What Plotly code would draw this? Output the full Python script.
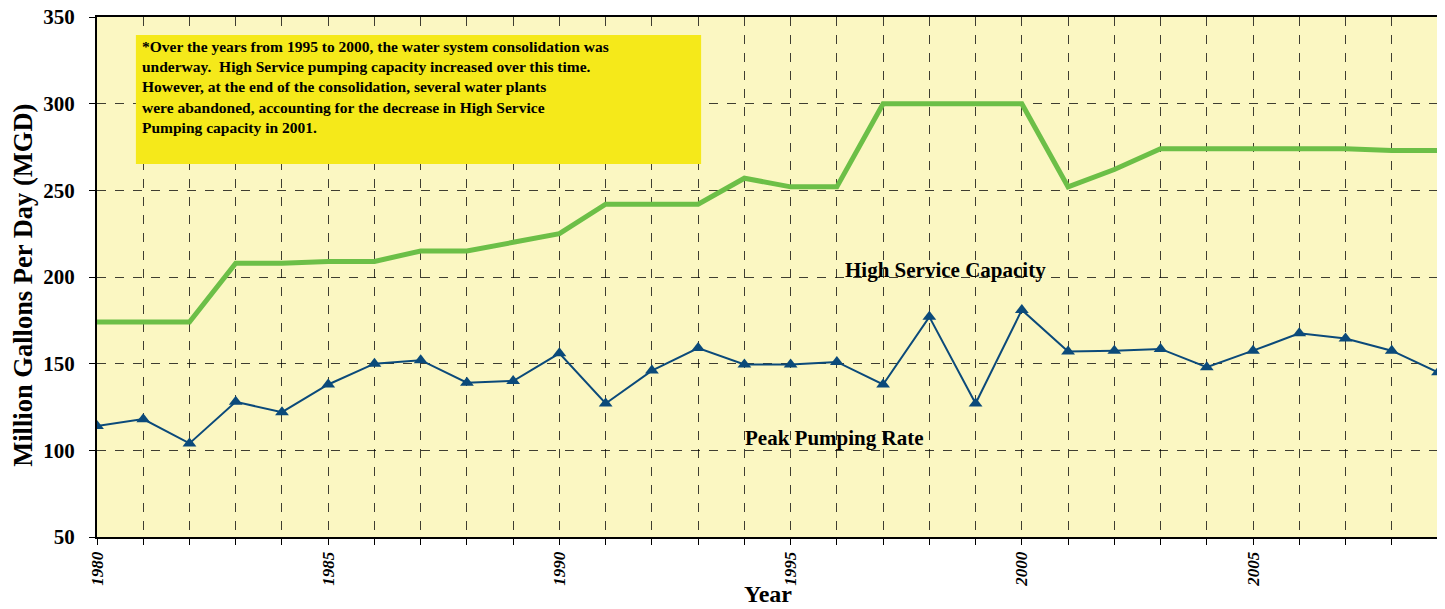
import plotly.graph_objects as go

years = list(range(1980, 2010))
high_service_capacity = [174, 174, 174, 208, 208, 209, 209, 215, 215, 220,
                         225, 242, 242, 242, 257, 252, 252, 300, 300, 300,
                         300, 252, 262, 274, 274, 274, 274, 274, 273, 273]
peak_pumping_rate = [114, 118, 104, 128, 122, 138, 150, 152, 139, 140,
                     156, 127, 146, 159, 149.5, 149.5, 151, 138, 177, 127,
                     181, 157, 157.5, 158.5, 148, 157.5, 167.5, 164.5, 157.5, 145]
x_tick_labels = [str(y) if y % 5 == 0 else "" for y in years]
y_ticks = [50, 100, 150, 200, 250, 300, 350]
note_lines = [
    "*Over the years from 1995 to 2000, the water system consolidation was",
    "underway.  High Service pumping capacity increased over this time.",
    "However, at the end of the consolidation, several water plants",
    "were abandoned, accounting for the decrease in High Service",
    "Pumping capacity in 2001.",
]

SERIF = "Liberation Serif, Times New Roman, serif"

fig = go.Figure()
fig.add_trace(go.Scatter(
    x=years, y=high_service_capacity, mode="lines",
    line=dict(color="#6CBF47", width=5), name="High Service Capacity",
))
fig.add_trace(go.Scatter(
    x=years, y=peak_pumping_rate, mode="lines+markers",
    line=dict(color="#0B4A7A", width=2),
    marker=dict(symbol="triangle-up", size=12, color="#0B4A7A"),
    name="Peak Pumping Rate",
))

fig.add_shape(type="rect", xref="paper", yref="paper",
              x0=0.029, x1=0.4505, y0=0.7175, y1=0.9655,
              fillcolor="#F5E91A", line=dict(width=0), layer="above")
for i, line in enumerate(note_lines):
    fig.add_annotation(xref="paper", yref="paper", x=0.032, y=0.944 - i * 0.0393,
                       xanchor="left", yanchor="middle", showarrow=False,
                       text=line, align="left",
                       font=dict(family=SERIF, size=15.5, color="black", weight="bold"))

fig.add_annotation(x=1998.35, y=204, text="High Service Capacity", showarrow=False,
                   font=dict(family=SERIF, size=21, color="black", weight="bold"))
fig.add_annotation(x=1995.95, y=107, text="Peak Pumping Rate", showarrow=False,
                   font=dict(family=SERIF, size=21, color="black", weight="bold"))

# axis titles
fig.add_annotation(xref="paper", yref="paper", x=-0.0552, y=0.485, textangle=-90,
                   xanchor="center", yanchor="middle",
                   text="Million Gallons Per Day (MGD)", showarrow=False,
                   font=dict(family=SERIF, size=26.5, color="black", weight="bold"))
fig.add_annotation(xref="paper", yref="paper", x=0.5, y=-0.138,
                   xanchor="center", yanchor="bottom",
                   text="Year", showarrow=False,
                   font=dict(family=SERIF, size=24, color="black", weight="bold"))

# page body has an 8px default margin, so the figure is sized to fit inside it
fig.update_layout(
    width=1437, height=601,
    margin=dict(l=89, r=7, t=9, b=72, autoexpand=False),
    paper_bgcolor="white", plot_bgcolor="#FBF7C2",
    showlegend=False,
    font=dict(family=SERIF, color="black"),
)
fig.update_xaxes(
    range=[1980, 2009], tickmode="array", tickvals=years, ticktext=x_tick_labels,
    tickangle=-90, ticks="outside", ticklen=6, tickcolor="black", automargin=False,
    ticklabeloverflow="allow",
    tickfont=dict(family=SERIF, size=17, weight="bold", style="italic", color="black"),
    showgrid=True, gridcolor="rgba(0,0,0,0.75)", griddash="dash", gridwidth=1,
    showline=True, linecolor="black", linewidth=2, mirror=True, zeroline=False,
)
fig.update_yaxes(
    range=[50, 350], tickmode="array", tickvals=y_ticks, automargin=False,
    ticks="outside", ticklen=6, tickcolor="black", ticklabelstandoff=10,
    ticklabeloverflow="allow",
    tickfont=dict(family=SERIF, size=21, weight="bold", color="black"),
    showgrid=True, gridcolor="rgba(0,0,0,0.75)", griddash="dash", gridwidth=1,
    showline=True, linecolor="black", linewidth=2, mirror=True, zeroline=False,
)

fig.write_html("out.html")
